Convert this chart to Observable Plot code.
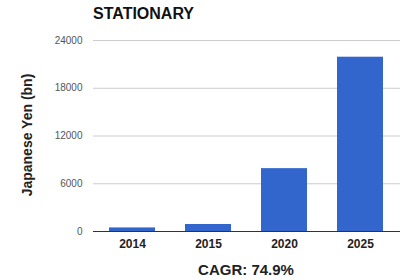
<!DOCTYPE html>
<html><head><meta charset="utf-8">
<script src="https://cdn.jsdelivr.net/npm/d3@7"></script>
<script src="https://cdn.jsdelivr.net/npm/@observablehq/plot@0.6"></script>
<style>
body{margin:0;background:#fff;font-family:"Liberation Sans",Arial,sans-serif;}
#wrap{position:relative;width:400px;height:280px;overflow:hidden;}
#title{position:absolute;left:93px;top:5px;font-size:16px;font-weight:bold;color:#111;}
#ylab{position:absolute;left:27px;top:135px;transform:translate(-50%,-50%) rotate(-90deg);font-size:14px;font-weight:bold;color:#222;white-space:nowrap;}
#cap{position:absolute;left:246px;top:261px;transform:translateX(-50%);font-size:15px;font-weight:bold;color:#222;white-space:nowrap;}
#chart{position:absolute;left:0;top:0;}
</style></head>
<body><div id="wrap"><div id="chart"></div><div id="title">STATIONARY</div><div id="ylab">Japanese Yen (bn)</div><div id="cap">CAGR: 74.9%</div></div>
<script>
const years = ["2014","2015","2020","2025"];
const values = [450, 880, 7900, 21900];
const yTicks = [0, 6000, 12000, 18000, 24000];
const data = years.map((y,i)=>({year:y, value:values[i]}));
const chart = Plot.plot({
  width: 400, height: 280,
  marginLeft: 93, marginRight: 0, marginTop: 40, marginBottom: 49,
  style: {fontFamily: '"Liberation Sans", Arial, sans-serif', background: "#fff"},
  x: {domain: years, paddingInner: 0.39, paddingOuter: 0.19, label: null},
  y: {domain: [0, 24000], label: null},
  marks: [
    Plot.gridY(yTicks, {stroke: "#ccc", strokeOpacity: 1}),
    Plot.axisY(yTicks, {tickSize: 0, tickPadding: 11, fontSize: 10, fill: "#555", label: null, tickFormat: d => String(d)}),
    Plot.barY(data, {x: "year", y: "value", fill: "#3366cc"}),
    Plot.ruleY([0], {stroke: "#333"}),
    Plot.axisX({tickSize: 0, tickPadding: 8, fontSize: 12, fontWeight: "bold", fill: "#222", label: null})
  ]
});
document.getElementById("chart").appendChild(chart);
</script></body></html>
